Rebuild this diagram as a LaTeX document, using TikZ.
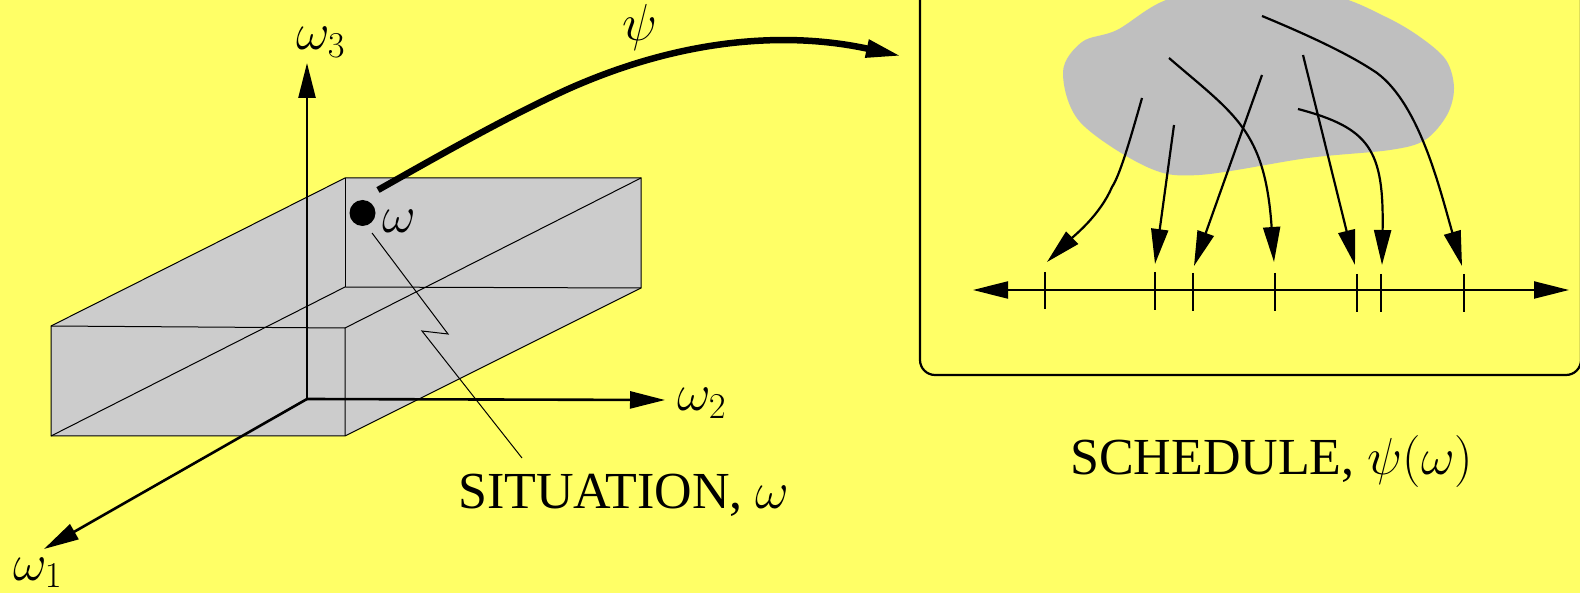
\documentclass[tikz,border=0pt]{standalone}
\usepackage{fix-cm}
\usepackage[no-math]{fontspec}
\setmainfont{Liberation Serif}
\usepackage{xcolor}
\usetikzlibrary{arrows.meta}
\definecolor{bgyellow}{HTML}{FFFF66}
\definecolor{boxgray}{HTML}{CCCCCC}
\definecolor{blobgray}{HTML}{BFBFBF}

\begin{document}
\begin{tikzpicture}[x=1pt, y=-1pt, font=\fontsize{52}{62}\selectfont]
    \tikzset{
      lab/.style={inner sep=0pt, anchor=base west},
      edge/.style={draw=black, line width=1pt},
      axis/.style={line width=2.6pt, -{Triangle[length=35pt, width=17pt]}},
      map/.style={line width=2.2pt, -{Triangle[length=35pt, width=17pt]}},
      tick/.style={line width=2pt},
    }
    \useasboundingbox (0,0) rectangle (1580,593);
    \fill[bgyellow] (0,0) rectangle (1580,593);
    \clip (0,0) rectangle (1580,593);

    % box
    \coordinate (fa) at (51,326);
    \coordinate (fb) at (345,328);
    \coordinate (fc) at (345,436);
    \coordinate (fd) at (51,436);
    \coordinate (ba) at (345,178);
    \coordinate (bb) at (641,178);
    \coordinate (bc) at (641,288);
    \coordinate (bd) at (345,287);
    \fill[boxgray] (fa) -- (ba) -- (bb) -- (bc) -- (fc) -- (fd) -- cycle;
    \draw[edge] (fa) -- (ba) -- (bb) -- (bc) -- (fc) -- (fd) -- cycle;
    \draw[edge] (fa) -- (fb) -- (fc);
    \draw[edge] (fb) -- (bb);
    \draw[edge] (fd) -- (bd) -- (bc);
    \draw[edge] (ba) -- (bd);

    % axes
    \coordinate (org) at (307,399);
    \coordinate (e1) at (44,549);
    \coordinate (e2) at (665,400);
    \coordinate (e3) at (307,63);
    \draw[axis] (org) -- (e1);
    \draw[axis] (org) -- (e2);
    \draw[axis] (org) -- (e3);
    \node[lab] (w1) at (13,580) {$\omega_1$};
    \node[lab] (w2) at (677,411) {$\omega_2$};
    \node[lab] (w3) at (296,50) {$\omega_3$};

    % situation point
    \node[circle, fill=black, minimum size=26pt, inner sep=0pt] (pt) at (362.5,213) {};
    \node[lab] (w) at (382,233) {$\omega$};
    \coordinate (za) at (372,233);
    \coordinate (zb) at (448,334);
    \coordinate (zc) at (422,331);
    \coordinate (zd) at (522,458);
    \draw[line width=1pt] (za) -- (zb) -- (zc) -- (zd);
    \node[lab] (sit) at (458,508) {SITUATION, $\omega$};

    % big map
    \coordinate (ms) at (378,190);
    \coordinate (mm) at (566,90);
    \coordinate (me) at (901,56);
    \draw[line width=6.5pt, -{Triangle[length=35pt, width=17pt]}] (ms) .. controls (440,155) and (505,118) .. (mm)
      .. controls (686,36) and (791,32) .. (me);
    \node[lab] (psi) at (622,41) {$\psi$};

    % schedule panel
    \draw[line width=2.2pt, rounded corners=15pt] (920,-30) -- (920,375) -- (1581,375) -- (1581,-30);
    \fill[blobgray] plot[smooth cycle, tension=0.55] coordinates {
      (1169,-1) (1117,30) (1082,42) (1063,72) (1080,122) (1147,167) (1199,175) (1308,158)
      (1390,150) (1425,140) (1447,115) (1454,88) (1446,60) (1420,37) (1386,17) (1334,-4) (1250,-12)};

    % time line
    \coordinate (ta) at (973,290);
    \coordinate (tb) at (1569,290);
    \draw[line width=2.2pt, {Triangle[length=35pt, width=17pt]}-{Triangle[length=35pt, width=17pt]}] (ta) -- (tb);
    \draw[tick] (1045,272) -- (1045,309);
    \draw[tick] (1154.5,272) -- (1154.5,310);
    \draw[tick] (1193,273) -- (1193,311);
    \draw[tick] (1275,273) -- (1275,311);
    \draw[tick] (1357,274) -- (1357,312);
    \draw[tick] (1380.5,274) -- (1380.5,312);
    \draw[tick] (1464,274) -- (1464,312);

    % task arrows
    \draw[map] (1142,98) .. controls (1130,140) and (1120,175) .. (1112,187) .. controls (1100,215) and (1075,235) .. (1047,262);
    \draw[map] (1174,125) -- (1155,264);
    \draw[map] (1262,75) -- (1194,266);
    \draw[map] (1169,58) .. controls (1235,115) and (1265,130) .. (1274,262);
    \draw[map] (1303,55) -- (1355,265);
    \draw[map] (1298,109) .. controls (1370,128) and (1384,150) .. (1382,265);
    \draw[map] (1262,16) .. controls (1320,40) and (1355,58) .. (1377,73) .. controls (1420,105) and (1440,190) .. (1462,266);

    \node[lab] (sch) at (1070,475) {SCHEDULE, $\psi(\omega)$};
  \end{tikzpicture}
\end{document}
